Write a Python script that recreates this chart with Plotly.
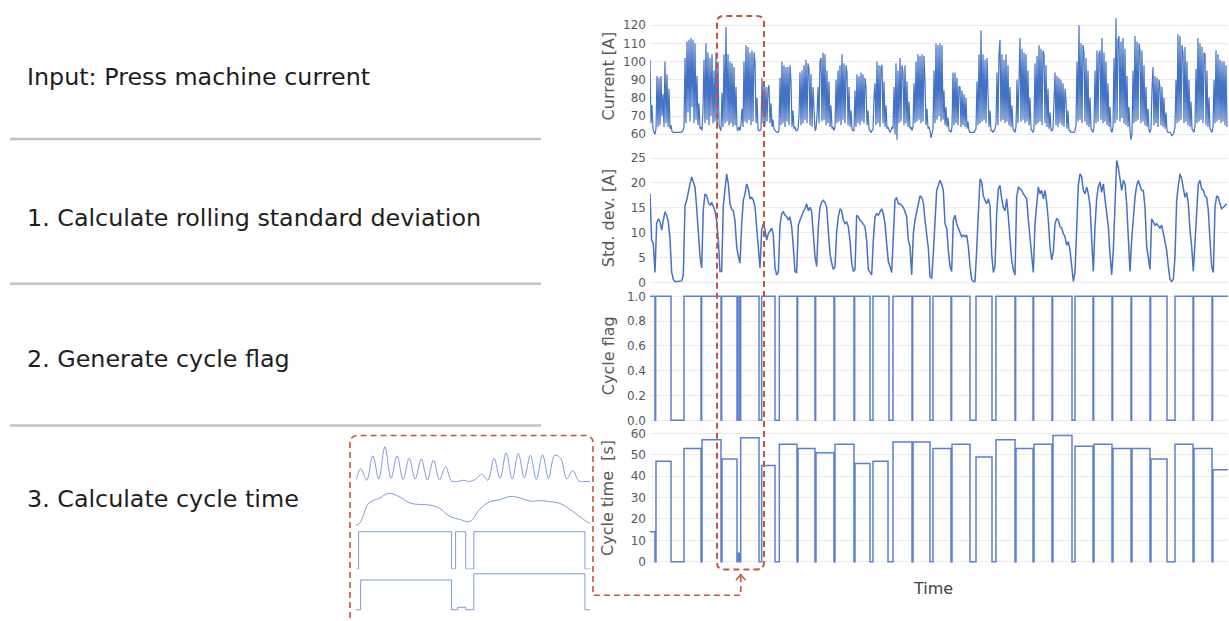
import plotly.graph_objects as go

W, H = 1229, 621


def xp(px):
    return px / W


def yp(py):
    return 1 - py / H


# ---------------- data ----------------
CURRENT_DT_S = 3   # sampling interval of the current signal [s]
STD_DT_S = 5       # sampling interval of the rolling std [s]

current_A = [
    101, 66, 76, 63, 61, 60,
    63, 92, 64, 91, 65, 92, 70, 82, 64, 100, 66, 93, 64, 85, 63, 65,
    61.5, 61, 61, 61, 61, 61, 61, 61, 61, 61, 61.5, 62,
    64, 102, 66, 111, 72, 112, 67, 113, 75, 112, 66, 110, 68, 92, 65, 77, 63, 64,
    62, 73, 101, 66, 110, 68, 105, 65, 102, 70, 104, 66, 95, 67, 105, 64, 100, 65, 63, 62,
    83, 64, 104, 66, 119, 67, 104, 65, 100, 66, 99, 64, 97, 65, 86, 63,
    62, 64, 62,
    66, 74, 64, 100, 67, 109, 66, 108, 68, 105, 65, 106, 67, 105, 100, 66, 80, 63, 62,
    62, 63,
    91, 66, 88, 65, 86, 67, 85, 87, 66, 77, 64, 68, 63, 62,
    61.5, 61, 61, 62,
    91, 65, 100, 66, 98, 64, 97, 67, 97, 65, 98, 89, 64, 73, 63, 64, 62, 62,
    63, 70, 94, 65, 95, 66, 98, 68, 101, 66, 99, 96, 65, 93, 64, 86, 68, 62,
    63, 70, 86, 66, 100, 102, 67, 105, 68, 104, 65, 95, 66, 89, 64, 76, 63, 64, 62,
    64, 90, 66, 95, 67, 98, 65, 104, 68, 99, 66, 98, 94, 65, 86, 64, 73, 63, 62, 62,
    84, 64, 93, 66, 92, 65, 94, 67, 93, 66, 91, 86, 65, 73, 63, 62,
    61, 62,
    63, 80, 88, 65, 100, 66, 98, 64, 97, 98, 66, 89, 64, 76, 63, 64,
    62, 61, 62, 64,
    63, 86, 60, 99, 57, 95, 66, 102, 67, 98, 94, 65, 98, 66, 89, 64, 78, 63, 64, 62,
    64, 88, 66, 100, 67, 104, 68, 103, 66, 104, 67, 103, 89, 65, 74, 63, 64, 62,
    58, 62,
    63, 95, 66, 110, 68, 109, 70, 110, 67, 109, 68, 84, 65, 75, 64, 69, 62, 62, 61,
    64, 94, 65, 94, 66, 91, 65, 86, 86, 64, 84, 65, 82, 64, 80, 63, 67, 62, 61,
    61, 61, 61, 61, 62,
    63, 89, 65, 104, 66, 117, 67, 104, 68, 101, 66, 102, 84, 64, 73, 62, 62,
    61, 62, 63,
    66, 94, 65, 104, 112, 67, 104, 68, 101, 66, 104, 67, 98, 65, 86, 64, 76, 63, 62, 61,
    64, 90, 66, 100, 113, 67, 107, 68, 105, 66, 104, 67, 95, 65, 80, 63, 62, 61,
    63, 99, 65, 103, 66, 109, 67, 107, 65, 106, 104, 66, 98, 64, 85, 63, 72, 62, 62,
    63, 78, 94, 65, 92, 64, 91, 66, 90, 65, 88, 64, 85, 78, 63, 73, 62, 62, 61, 61,
    61, 61, 62,
    65, 100, 67, 120, 68, 110, 66, 109, 105, 67, 102, 65, 95, 64, 80, 63, 62, 61,
    64, 95, 66, 106, 67, 104, 106, 68, 113, 66, 105, 67, 100, 65, 88, 64, 75, 62, 61,
    64, 102, 66, 124, 68, 112, 114, 67, 111, 69, 113, 66, 107, 65, 92, 64, 75, 62, 57,
    60, 95, 66, 114, 67, 111, 68, 110, 106, 66, 106, 67, 98, 65, 86, 64, 74, 62, 61,
    63, 85, 97, 65, 92, 66, 91, 64, 90, 86, 65, 86, 64, 80, 63, 72, 62,
    61, 61, 61, 60, 59, 60, 61,
    64, 90, 66, 115, 67, 114, 68, 109, 105, 66, 108, 67, 100, 65, 90, 64, 78, 63, 62, 61,
    65, 96, 66, 113, 67, 110, 68, 108, 66, 105, 104, 65, 95, 64, 80, 63, 62, 61,
    64, 90, 66, 106, 67, 104, 68, 101, 66, 100, 67, 100, 65, 98, 64,
]

std_A = [
    17.8, 8.5, 7.8, 2.0, 11.8, 12.8, 12.2, 10.5, 12.5, 14.2, 13.5, 12.2, 8.8, 2.0, 0.6,
    0.2, 0.2, 0.2, 0.2, 0.3, 1.5, 15.5, 16.5, 18.5, 19.8, 21.2, 20.2, 19.2, 15.0, 9.2,
    5.2, 2.9, 14.7, 17.8, 17.4, 16.1, 15.5, 16.1, 15.0, 14.4, 12.4, 8.5, 2.2, 2.2, 15.5,
    18.5, 21.8, 19.8, 15.8, 14.7, 14.4, 12.4, 7.2, 5.2, 3.9, 11.8, 16.5, 17.8, 19.8, 18.8,
    16.8, 17.1, 16.5, 15.2, 11.2, 6.5, 2.9, 10.5, 11.8, 10.5, 8.5, 9.8, 10.5, 10.9, 9.5,
    2.9, 1.5, 2.0, 11.5, 13.8, 14.2, 13.5, 13.2, 12.5, 13.2, 11.2, 7.2, 2.2, 2.0, 11.5,
    12.5, 13.5, 14.2, 14.8, 15.8, 14.4, 15.1, 14.2, 9.8, 5.2, 3.2, 11.2, 15.1, 16.1, 16.5,
    16.1, 15.1, 10.5, 5.8, 3.9, 2.6, 3.2, 10.2, 13.2, 14.8, 14.4, 12.5, 11.8, 12.2, 11.2,
    8.5, 3.9, 2.2, 2.6, 13.5, 13.2, 12.5, 12.2, 11.8, 11.2, 8.5, 2.6, 2.0, 1.5, 8.5,
    13.2, 13.8, 13.5, 14.2, 14.8, 13.8, 11.8, 7.8, 4.2, 3.2, 2.0, 9.2, 16.5, 17.1, 15.8,
    15.8, 15.5, 15.1, 14.2, 13.2, 8.5, 7.2, 1.5, 9.8, 12.5, 14.4, 15.8, 17.4, 17.1, 16.1,
    12.5, 9.5, 6.9, 1.2, 0.8, 5.8, 13.2, 18.5, 19.5, 20.5, 19.8, 18.5, 11.8, 10.9, 6.5,
    3.2, 2.2, 12.5, 13.5, 11.8, 10.9, 9.8, 9.2, 9.5, 9.2, 9.5, 7.2, 3.2, 0.6, 0.2,
    0.2, 6.5, 15.5, 20.8, 20.2, 17.4, 16.5, 15.8, 16.8, 15.5, 5.8, 2.0, 3.2, 13.8, 18.8,
    19.5, 16.8, 15.1, 14.4, 16.8, 13.2, 9.2, 4.5, 2.6, 1.5, 17.1, 19.2, 18.8, 18.5, 17.8,
    17.4, 16.8, 12.5, 8.5, 4.5, 2.0, 11.8, 15.5, 19.2, 17.8, 18.5, 16.8, 18.5, 16.1, 12.5,
    7.2, 4.5, 6.2, 11.8, 12.8, 12.5, 11.2, 10.9, 9.8, 9.2, 7.5, 8.2, 6.5, 3.2, 0.2,
    2.0, 11.8, 19.5, 21.8, 21.2, 18.5, 17.8, 19.2, 17.8, 15.5, 8.5, 2.2, 11.2, 16.8, 19.2,
    20.2, 18.1, 19.8, 16.8, 14.4, 11.2, 5.8, 1.5, 6.5, 16.8, 24.5, 23.1, 20.8, 18.5, 20.5,
    19.8, 15.8, 9.2, 2.2, 8.5, 13.8, 17.1, 19.5, 20.5, 19.5, 18.5, 18.5, 15.1, 7.2, 5.2,
    2.6, 12.8, 12.2, 11.5, 11.8, 11.2, 10.9, 11.5, 9.8, 8.5, 6.5, 3.2, 0.6, 0.2, 0.6,
    5.2, 16.5, 19.5, 21.8, 20.8, 18.8, 17.1, 18.1, 15.8, 10.5, 7.2, 2.2, 8.5, 15.8, 19.8,
    20.5, 18.8, 18.5, 17.4, 17.1, 14.4, 8.5, 3.2, 2.0, 15.1, 17.4, 17.1, 15.8, 14.8, 15.1,
    15.5, 15.8,
]

flag_t_s = [0, 15, 17, 63, 102, 153, 155, 213, 215, 261, 263, 268, 272, 327, 335,
            375, 388, 441, 443, 495, 497, 552, 554, 612, 614, 660, 669, 717, 729,
            786, 788, 840, 849, 903, 905, 960, 978, 1026, 1038, 1095, 1097, 1149,
            1151, 1206, 1208, 1266, 1275, 1329, 1331, 1386, 1388, 1443, 1445, 1500,
            1502, 1551, 1575, 1629, 1631, 1686, 1688, 1734]
flag_v = [1, 0, 1, 0, 1, 0, 1, 0, 1, 0, 1, 0, 1, 0, 1,
          0, 1, 0, 1, 0, 1, 0, 1, 0, 1, 0, 1, 0, 1,
          0, 1, 0, 1, 0, 1, 0, 1, 0, 1, 0, 1, 0,
          1, 0, 1, 0, 1, 0, 1, 0, 1, 0, 1, 0,
          1, 0, 1, 0, 1, 0, 1, 1]

cycle_t_s = [0, 15, 18, 63, 102, 153, 156, 213, 216, 261, 264, 268, 272, 327, 335,
             375, 388, 441, 444, 495, 498, 552, 555, 612, 615, 660, 669, 714, 729,
             786, 789, 840, 849, 903, 906, 960, 978, 1026, 1038, 1095, 1098, 1149,
             1152, 1206, 1209, 1266, 1275, 1329, 1332, 1386, 1389, 1443, 1446, 1500,
             1503, 1551, 1575, 1629, 1632, 1686, 1689, 1734]
cycle_time_s = [14, 0, 47, 0, 53, 0, 57, 0, 48, 0, 4, 0, 58, 0, 45,
                0, 55, 0, 53, 0, 51, 0, 55, 0, 46, 0, 47, 0, 56,
                0, 56, 0, 53, 0, 55, 0, 49, 0, 57, 0, 53, 0,
                55, 0, 59, 0, 54, 0, 55, 0, 53, 0, 53, 0,
                48, 0, 55, 0, 53, 0, 43, 43]

steps = ["Input: Press machine current",
         "1. Calculate rolling standard deviation",
         "2. Generate cycle flag",
         "3. Calculate cycle time"]
y_titles = ["Current [A]", "Std. dev. [A]", "Cycle flag", "Cycle time  [s]"]
x_title = "Time"
current_ticks = [60, 70, 80, 90, 100, 110, 120]
std_ticks = [0, 5, 10, 15, 20, 25]
flag_ticks = [0.0, 0.2, 0.4, 0.6, 0.8, 1.0]
cycle_ticks = [0, 10, 20, 30, 40, 50, 60]
time_span_s = [0, 1734]
zoom_window_s = [213.7, 329.5]

# ---------------- figure ----------------
t_current = [CURRENT_DT_S * i for i in range(len(current_A))]
t_std = [STD_DT_S * i for i in range(len(std_A))]

BLUE = "#4472C4"
BLUE2 = "#5a80cf"
INSET = "#7d9bd9"
RED = "#c4553b"
GRID = "#ebebeb"
TICKC = "#595959"
FONT = "DejaVu Sans"

fig = go.Figure()
fig.add_trace(go.Scatter(x=t_current, y=current_A, mode="lines",
                         line=dict(color=BLUE, width=1.2), xaxis="x", yaxis="y"))
fig.add_trace(go.Scatter(x=t_std, y=std_A, mode="lines",
                         line=dict(color=BLUE, width=1.5), xaxis="x", yaxis="y2"))
fig.add_trace(go.Scatter(x=flag_t_s, y=flag_v, mode="lines", line_shape="hv",
                         line=dict(color=BLUE2, width=1.5), xaxis="x", yaxis="y3"))
fig.add_trace(go.Scatter(x=cycle_t_s, y=cycle_time_s, mode="lines", line_shape="hv",
                         line=dict(color=BLUE2, width=1.5), xaxis="x", yaxis="y4"))

# inset (zoom of the red window)
fig.add_trace(go.Scatter(x=t_current, y=current_A, mode="lines", line_shape="spline",
                         line=dict(color=INSET, width=1), xaxis="x2", yaxis="y5"))
fig.add_trace(go.Scatter(x=t_std, y=std_A, mode="lines", line_shape="spline",
                         line=dict(color=INSET, width=1), xaxis="x2", yaxis="y6"))
fig.add_trace(go.Scatter(x=flag_t_s, y=flag_v, mode="lines", line_shape="hv",
                         line=dict(color=INSET, width=1), xaxis="x2", yaxis="y7"))
fig.add_trace(go.Scatter(x=cycle_t_s, y=cycle_time_s, mode="lines", line_shape="hv",
                         line=dict(color=INSET, width=1), xaxis="x2", yaxis="y8"))


def main_y(top_px, bot_px, rng, ticks, fmt=None):
    d = dict(domain=[yp(bot_px), yp(top_px)], range=rng, tickvals=ticks,
             showgrid=True, gridcolor=GRID, gridwidth=1, zeroline=False,
             showline=False, ticks="", anchor="x", ticklabelstandoff=3,
             tickfont=dict(family=FONT, size=12, color=TICKC))
    if fmt:
        d["tickformat"] = fmt
    return d


def inset_y(top_px, bot_px, rng):
    return dict(domain=[yp(bot_px), yp(top_px)], range=rng, visible=False, anchor="x2")


layout = dict(
    width=W, height=H, autosize=False,
    margin=dict(l=0, r=0, t=0, b=0),
    paper_bgcolor="white", plot_bgcolor="white",
    showlegend=False, hovermode=False,
    xaxis=dict(domain=[xp(650), xp(1228)], range=time_span_s, visible=False, anchor="y4"),
    xaxis2=dict(domain=[xp(356), xp(590)], range=zoom_window_s, visible=False, anchor="y8"),
    yaxis=main_y(12, 141, [55.8, 126.2], current_ticks),
    yaxis2=main_y(150, 287, [-0.86, 26.46], std_ticks),
    yaxis3=main_y(291, 427, [-0.0424, 1.0456], flag_ticks, ".1f"),
    yaxis4=main_y(430, 570, [-2.64, 62.3], cycle_ticks),
    yaxis5=inset_y(445, 487, [56, 124.4]),
    yaxis6=inset_y(490, 529, [0.55, 25.15]),
    yaxis7=inset_y(531, 575, [-0.0875, 1.08]),
    yaxis8=inset_y(572, 617, [-6.9, 65.1]),
)
fig.update_layout(**layout)

ann = []
for txt, py in zip(steps, [76, 218, 360, 501]):
    ann.append(dict(text=txt, x=xp(25), y=yp(py), xref="paper", yref="paper",
                    xanchor="left", yanchor="middle", showarrow=False,
                    font=dict(family=FONT, size=23.8, color="#1e1e1e")))
for txt, py in zip(y_titles, [75, 218, 357, 500]):
    ann.append(dict(text=txt, x=xp(608), y=yp(py), xref="paper", yref="paper",
                    xanchor="center", yanchor="middle", showarrow=False, textangle=-90,
                    font=dict(family=FONT, size=16, color=TICKC)))
ann.append(dict(text=x_title, x=xp(933), y=yp(591), xref="paper", yref="paper",
                xanchor="center", yanchor="middle", showarrow=False,
                font=dict(family=FONT, size=16, color="#404040")))
fig.update_layout(annotations=ann)


def P(px, py):
    return f"{xp(px):.5f},{yp(py):.5f}"


shapes = []
for py in [138, 284, 427]:
    shapes.append(dict(type="line", xref="paper", yref="paper",
                       x0=xp(10), x1=xp(541), y0=yp(py), y1=yp(py),
                       line=dict(color="#c4c4c4", width=2.5)))

# red dashed window
x0, x1, y0, y1, r = 717, 764, 14, 572, 7
box = (f"M {P(x0, y0 + r)} L {P(x0, y1 - r)} Q {P(x0, y1)} {P(x0 + r, y1)} "
       f"L {P(x1 - r, y1)} Q {P(x1, y1)} {P(x1, y1 - r)} L {P(x1, y0 + r)} "
       f"Q {P(x1, y0)} {P(x1 - r, y0)} L {P(x0 + r, y0)} Q {P(x0, y0)} {P(x0, y0 + r)} Z")
shapes.append(dict(type="path", xref="paper", yref="paper", path=box,
                   line=dict(color=RED, width=2, dash="6px,4px")))

# inset frame + connector
ix0, ix1, iy0, r2 = 350, 593, 437, 8
conn = (f"M {P(ix0, 621)} L {P(ix0, iy0 + r2)} Q {P(ix0, iy0)} {P(ix0 + r2, iy0)} "
        f"L {P(ix1 - r2, iy0)} Q {P(ix1, iy0)} {P(ix1, iy0 + r2)} L {P(ix1, 598)} "
        f"L {P(740.7, 598)} L {P(740.7, 578)}")
shapes.append(dict(type="path", xref="paper", yref="paper", path=conn,
                   line=dict(color=RED, width=1.6, dash="6px,4px")))
head = f"M {P(736, 583)} L {P(740.7, 577)} L {P(745.4, 583)}"
shapes.append(dict(type="path", xref="paper", yref="paper", path=head,
                   line=dict(color=RED, width=1.5)))
fig.update_layout(shapes=shapes)

fig.write_html("out.html")
